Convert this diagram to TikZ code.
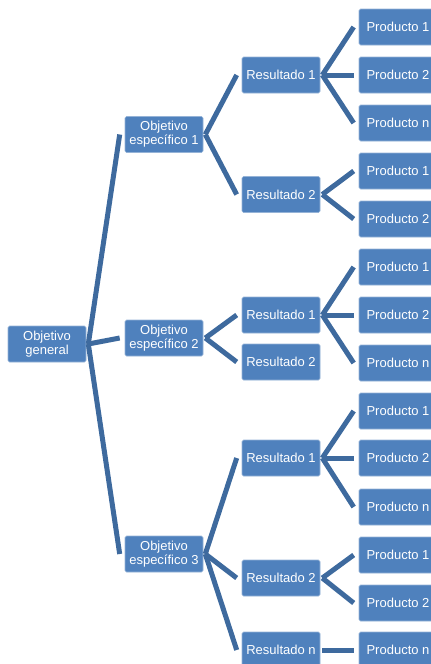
\documentclass[tikz,border=0pt]{standalone}
\usepackage{fontspec}
\setmainfont{Liberation Sans}
\definecolor{boxblue}{RGB}{79,129,189}
\definecolor{lineblue}{RGB}{62,106,158}
\begin{document}
\begin{tikzpicture}[x=1pt,y=-1pt,
  box/.style={rectangle, rounded corners=1.5pt, fill=boxblue, draw=boxblue!60!white, line width=0.6pt,
    minimum width=78pt, minimum height=36pt, inner sep=0pt, align=center, text=white,
    font=\fontsize{13}{14}\selectfont},
  conn/.style={lineblue, line width=5pt}]
\useasboundingbox (0,0) rectangle (431,664);
\clip (0,0) rectangle (431,664);
% level 0
\node[box] (og) at (47,344) {Objetivo\\general};
% level 1
\node[box] (o1) at (164,134.5) {Objetivo\\específico 1};
\node[box] (o2) at (164,338) {Objetivo\\específico 2};
\node[box] (o3) at (164,554) {Objetivo\\específico 3};
% level 2
\node[box] (r11) at (281,75) {Resultado 1};
\node[box] (r12) at (281,194.5) {Resultado 2};
\node[box] (r21) at (281,315) {Resultado 1};
\node[box] (r22) at (281,362) {Resultado 2};
\node[box] (r31) at (281,458) {Resultado 1};
\node[box] (r32) at (281,578) {Resultado 2};
\node[box] (r3n) at (281,650) {Resultado n};
% level 3
\node[box] (p111) at (398,27) {Producto 1};
\node[box] (p112) at (398,75) {Producto 2};
\node[box] (p11n) at (398,123) {Producto n};
\node[box] (p121) at (398,171) {Producto 1};
\node[box] (p122) at (398,219) {Producto 2};
\node[box] (p211) at (398,267) {Producto 1};
\node[box] (p212) at (398,315) {Producto 2};
\node[box] (p21n) at (398,363) {Producto n};
\node[box] (p311) at (398,411) {Producto 1};
\node[box] (p312) at (398,458) {Producto 2};
\node[box] (p31n) at (398,507) {Producto n};
\node[box] (p321) at (398,555) {Producto 1};
\node[box] (p322) at (398,603) {Producto 2};
\node[box] (p3nn) at (398,650) {Producto n};
% connectors
\foreach \a/\b in {og/o1,og/o2,og/o3,
  o1/r11,o1/r12,o2/r21,o2/r22,o3/r31,o3/r32,o3/r3n,
  r11/p111,r11/p112,r11/p11n,r12/p121,r12/p122,
  r21/p211,r21/p212,r21/p21n,
  r31/p311,r31/p312,r31/p31n,r32/p321,r32/p322,r3n/p3nn}
  \draw[conn] ([xshift=2pt]\a.east) -- ([xshift=-5pt]\b.west);
\end{tikzpicture}
\end{document}
